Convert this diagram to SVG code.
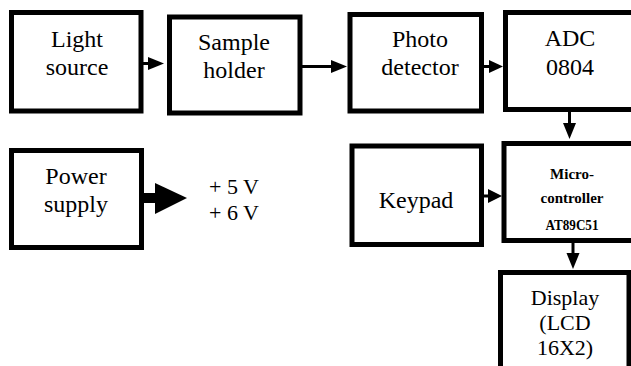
<svg xmlns="http://www.w3.org/2000/svg" width="631" height="366" viewBox="0 0 631 366">
  <style>
    .box { fill: #ffffff; stroke: #000000; stroke-width: 5; }
    .lbl { font-family: 'Liberation Serif', Tinos, 'Times New Roman', 'DejaVu Serif', serif; font-size: 24px; fill: #000000; text-anchor: middle; }
    .sm { font-size: 22px; }
    .mcu { font-family: 'Liberation Serif', Tinos, 'Times New Roman', 'DejaVu Serif', serif; font-size: 15px; font-weight: bold; fill: #000000; text-anchor: middle; }
    .wire { stroke: #000000; stroke-width: 3; fill: none; }
    .head { fill: #000000; }
  </style>
  <rect width="631" height="366" fill="#ffffff"/>

  <g id="light-source">
    <rect class="box" x="11.5" y="12.5" width="129.5" height="98.5"/>
    <text class="lbl" x="77" y="47">Light</text>
    <text class="lbl" x="77" y="75">source</text>
  </g>

  <g id="sample-holder">
    <rect class="box" x="169.5" y="17" width="130.5" height="96"/>
    <text class="lbl" x="234" y="50">Sample</text>
    <text class="lbl" x="234" y="78">holder</text>
  </g>

  <g id="photo-detector">
    <rect class="box" x="350" y="14.5" width="131.5" height="96.5"/>
    <text class="lbl" x="420" y="47">Photo</text>
    <text class="lbl" x="420" y="75">detector</text>
  </g>

  <g id="adc">
    <rect class="box" x="505.5" y="12.5" width="130" height="97"/>
    <text class="lbl" x="570" y="46">ADC</text>
    <text class="lbl" x="570" y="75">0804</text>
  </g>

  <g id="power-supply">
    <rect class="box" x="11.5" y="150.5" width="130" height="97"/>
    <text class="lbl" x="76" y="184">Power</text>
    <text class="lbl" x="76" y="212">supply</text>
  </g>

  <g id="voltages">
    <text class="lbl sm" x="209" y="194" style="text-anchor:start">+ 5 V</text>
    <text class="lbl sm" x="209" y="220" style="text-anchor:start">+ 6 V</text>
  </g>

  <g id="keypad">
    <rect class="box" x="352" y="146" width="129.5" height="98.5"/>
    <text class="lbl" x="416" y="208">Keypad</text>
  </g>

  <g id="microcontroller">
    <rect class="box" x="504" y="143.5" width="130" height="97"/>
    <text class="mcu" x="572" y="179">Micro-</text>
    <text class="mcu" x="572" y="203">controller</text>
    <text class="mcu" x="572" y="230" textLength="53" lengthAdjust="spacingAndGlyphs">AT89C51</text>
  </g>

  <g id="display">
    <rect class="box" x="500.5" y="272.5" width="128.5" height="100"/>
    <text class="lbl sm" x="565" y="305">Display</text>
    <text class="lbl sm" x="565" y="330">(LCD</text>
    <text class="lbl sm" x="565" y="355">16X2)</text>
  </g>

  <g id="connectors">
    <!-- light source to sample holder -->
    <line class="wire" x1="143" y1="63.5" x2="150" y2="63.5"/>
    <polygon class="head" points="148,57 164,63.5 148,70"/>
    <!-- sample holder to photo detector -->
    <line class="wire" x1="302" y1="66.5" x2="333" y2="66.5"/>
    <polygon class="head" points="331,60 347,66.5 331,73"/>
    <!-- photo detector to ADC -->
    <line class="wire" x1="483" y1="66.5" x2="491" y2="66.5"/>
    <polygon class="head" points="489,60 503,66.5 489,73"/>
    <!-- ADC to microcontroller -->
    <line class="wire" x1="569.5" y1="111" x2="569.5" y2="125"/>
    <polygon class="head" points="563,123 576,123 569.5,139"/>
    <!-- keypad to microcontroller -->
    <line class="wire" x1="483" y1="196" x2="490" y2="196"/>
    <polygon class="head" points="488,189 502,196 488,203"/>
    <!-- microcontroller to display -->
    <line class="wire" x1="573" y1="242" x2="573" y2="255"/>
    <polygon class="head" points="566.5,253 579.5,253 573,269"/>
    <!-- power supply output -->
    <rect class="head" x="143" y="193" width="13" height="10"/>
    <polygon class="head" points="155,183 187,198 155,214"/>
  </g>
</svg>
